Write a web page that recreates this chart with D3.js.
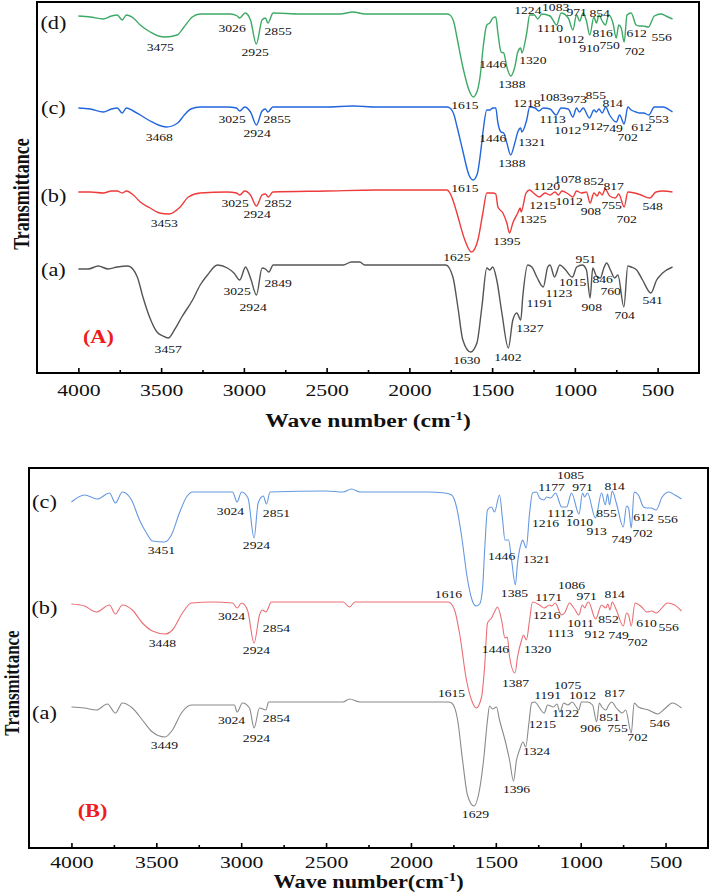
<!DOCTYPE html>
<html>
<head>
<meta charset="utf-8">
<script src="https://cdn.jsdelivr.net/npm/d3@7"></script>
<style>
  body { margin: 0; background: #fff; }
  svg { display: block; }
  text { font-family: "Liberation Serif", "Times New Roman", serif; fill: #111; }
</style>
</head>
<body>
<script>
var width = 710,
    height = 896;
var SX = 1.24; // the source figure is stretched sideways, so is the text

var majorTicks = [4000, 3500, 3000, 2500, 2000, 1500, 1000, 500];
var minorTicks = [3750, 3250, 2750, 2250, 1750, 1250, 750];

// spectra: [wave number, transmittance (a.u., stacked)]
var specA_d = [[4000,357],[3928,356],[3849,354],[3800,357],[3765,358],[3735,353],[3710,358],[3668,355],[3626,348],[3566,341],[3517,337],[3475,336],[3403,338],[3366,345],[3312,356],[3264,359],[3083,359],[3040,357],[3026,355],[2992,360],[2960,353],[2925,329],[2890,353],[2870,355],[2855,350],[2823,360],[2660,359],[2419,359],[2340,361],[2268,359],[1773,359],[1755,358],[1730,350],[1713,336],[1677,306],[1640,283],[1615,276],[1590,282],[1570,300],[1556,323],[1532,348],[1514,350],[1496,355],[1478,356],[1465,340],[1446,321],[1430,320],[1411,306],[1388,297],[1363,306],[1345,321],[1327,325],[1320,320],[1291,340],[1273,358],[1245,358],[1224,354],[1200,359],[1150,357],[1110,348],[1083,360],[1040,355],[1012,343],[990,358],[971,352],[950,360],[930,352],[910,338],[885,356],[870,350],[854,358],[835,352],[816,348],[795,358],[770,350],[750,335],[735,348],[720,345],[702,331],[685,358],[660,360],[630,348],[612,347],[590,347],[556,346],[520,357],[480,359],[450,357],[410,354]];
var specA_c = [[4000,265],[3928,264],[3849,261],[3800,264],[3765,265],[3735,260],[3710,265],[3668,262],[3626,258],[3566,252],[3517,248],[3468,246],[3400,250],[3360,258],[3320,264],[3264,266],[3100,266],[3045,265],[3025,262],[2995,266],[2960,261],[2924,248],[2890,262],[2870,264],[2855,261],[2825,266],[2500,266],[2340,267],[2200,266],[1773,266],[1755,265],[1730,258],[1713,247],[1677,222],[1640,198],[1615,193],[1590,199],[1570,220],[1556,240],[1532,263],[1514,263],[1496,265],[1478,265],[1465,250],[1446,241],[1430,240],[1411,230],[1388,218],[1363,230],[1345,241],[1327,245],[1321,241],[1291,253],[1273,266],[1240,265],[1218,262],[1190,265],[1150,264],[1113,258],[1083,265],[1040,264],[1012,256],[990,265],[973,261],[950,265],[912,255],[885,263],[870,261],[855,264],[835,260],[814,266],[790,258],[749,251],[730,258],[702,249],[680,266],[660,263],[630,261],[612,260],[585,260],[553,258],[520,266],[470,266],[410,261]];
var specA_b = [[4000,181],[3928,181],[3849,180],[3800,182],[3765,182],[3735,180],[3710,182],[3668,178],[3626,171],[3566,165],[3510,160],[3453,159],[3385,166],[3335,176],[3264,180],[3100,181],[3045,180],[3025,178],[2995,182],[2960,178],[2924,167],[2890,178],[2870,179],[2852,176],[2825,181],[2500,182],[2200,183],[1773,183],[1755,180],[1735,172],[1713,160],[1665,133],[1625,121],[1586,133],[1556,160],[1532,180],[1514,180],[1496,180],[1478,179],[1465,166],[1435,160],[1411,150],[1395,140],[1375,150],[1345,160],[1330,165],[1325,161],[1295,180],[1273,183],[1250,180],[1215,176],[1180,180],[1150,178],[1120,181],[1100,178],[1078,182],[1040,179],[1012,176],[990,182],[960,180],[930,181],[908,170],[885,180],[865,177],[852,181],[835,178],[817,184],[790,177],[755,175],[735,179],[702,166],[680,181],[640,180],[600,178],[548,175],[510,181],[470,182],[410,181]];
var specA_a = [[4000,104],[3940,104],[3880,107],[3820,104],[3765,106],[3700,107],[3644,96],[3610,76],[3570,56],[3525,41],[3490,37],[3457,35],[3420,43],[3375,56],[3310,73],[3264,88],[3220,98],[3160,108],[3100,105],[3060,100],[3025,93],[2990,106],[2960,95],[2924,78],[2890,105],[2870,104],[2849,101],[2823,108],[2400,108],[2350,111],[2300,111],[2270,108],[1780,108],[1737,96],[1707,66],[1677,33],[1630,21],[1592,30],[1562,66],[1532,105],[1514,103],[1496,106],[1472,93],[1441,60],[1402,25],[1375,53],[1351,60],[1327,53],[1315,76],[1285,108],[1260,106],[1230,96],[1191,86],[1164,106],[1150,108],[1123,96],[1091,108],[1061,104],[1015,96],[989,106],[955,108],[930,103],[908,75],[892,105],[870,97],[846,95],[825,105],[808,110],[785,103],[760,95],[740,98],[704,66],[680,107],[660,106],[627,103],[591,93],[541,80],[506,93],[470,100],[410,106]];

var specB_c = [[4000,346],[3923,353],[3847,349],[3776,355],[3741,345],[3700,356],[3646,348],[3599,328],[3558,315],[3523,307],[3451,306],[3411,313],[3364,335],[3322,351],[3287,356],[3051,356],[3024,346],[2998,356],[2960,350],[2924,310],[2900,345],[2870,352],[2851,344],[2830,356],[2500,357],[2400,356],[2350,359],[2300,356],[1900,356],[1800,355],[1760,353],[1730,340],[1700,310],[1670,272],[1640,248],[1616,242],[1595,244],[1578,260],[1565,300],[1549,338],[1525,341],[1508,336],[1478,353],[1460,328],[1446,308],[1425,308],[1407,288],[1385,263],[1372,285],[1348,306],[1342,308],[1321,300],[1301,335],[1284,355],[1260,356],[1242,350],[1216,348],[1201,351],[1177,350],[1148,355],[1112,341],[1083,341],[1054,355],[1010,334],[989,355],[977,351],[960,355],[913,330],[877,355],[855,343],[842,354],[830,343],[814,357],[790,345],[749,321],[730,342],[718,340],[702,320],[685,356],[660,353],[630,341],[612,340],[585,340],[556,338],[520,351],[480,356],[445,353],[406,349]];
var specB_b = [[4000,244],[3923,242],[3853,236],[3776,243],[3741,234],[3700,243],[3641,238],[3582,225],[3523,217],[3448,214],[3405,218],[3346,235],[3293,245],[3169,246],[3051,245],[3024,240],[2998,245],[2963,238],[2924,205],[2892,233],[2875,238],[2854,236],[2822,246],[2400,246],[2362,241],[2330,246],[1780,246],[1743,238],[1714,215],[1673,168],[1643,148],[1615,140],[1584,151],[1566,181],[1549,225],[1525,230],[1508,236],[1490,241],[1466,228],[1446,210],[1432,211],[1419,191],[1387,175],[1372,191],[1348,208],[1337,213],[1320,208],[1301,228],[1284,246],[1242,243],[1216,240],[1183,243],[1171,242],[1150,245],[1113,233],[1095,235],[1066,245],[1040,240],[1011,233],[990,243],[975,240],[965,244],[954,246],[912,229],[877,243],[852,240],[840,244],[828,238],[814,246],[790,238],[749,222],[730,235],[718,233],[702,222],[680,245],[641,241],[610,236],[580,237],[556,235],[488,245],[447,243],[406,237]];
var specB_a = [[4000,141],[3923,140],[3853,138],[3788,144],[3741,135],[3700,145],[3641,140],[3582,128],[3523,116],[3449,111],[3405,118],[3352,135],[3293,143],[3040,143],[3024,136],[2992,145],[2951,140],[2924,120],[2892,140],[2854,138],[2839,146],[2400,146],[2362,149],[2300,146],[1780,146],[1760,145],[1725,128],[1696,88],[1667,53],[1629,42],[1602,53],[1572,88],[1549,128],[1537,142],[1519,139],[1496,141],[1478,128],[1446,108],[1419,88],[1396,67],[1378,88],[1360,98],[1340,106],[1324,101],[1305,125],[1289,145],[1272,146],[1215,135],[1195,143],[1160,141],[1140,144],[1122,136],[1100,145],[1075,143],[1050,146],[1030,142],[1012,138],[995,146],[960,146],[930,143],[906,126],[890,145],[875,141],[851,138],[835,143],[817,146],[790,140],[755,135],[735,138],[702,115],[685,145],[660,141],[600,138],[546,134],[500,140],[460,145],[406,140]];

// peak annotations: [text, wave number, transmittance]
var peaksA_d = [["3475",3505,326],["3026",3071,345],["2925",2932,321],["2855",2793,342],["1615",1665,268],["1446",1496,309],["1388",1381,289],["1320",1254,313],["1224",1284,363],["1083",1116,366],["971",989,361],["854",850,360],["1110",1150,345],["1012",1025,334],["816",832,340],["910",912,325],["750",790,328],["702",639,322],["612",627,340],["556",476,336]];
var peaksA_c = [["3468",3511,236],["3025",3071,254],["2924",2920,240],["2855",2799,254],["1615",1665,185],["1446",1496,235],["1388",1381,210],["1321",1260,231],["1218",1290,270],["1083",1134,276],["973",989,274],["855",874,278],["814",772,270],["1113",1134,254],["1012",1043,243],["912",892,247],["749",772,245],["702",681,236],["612",597,246],["553",494,254]];
var peaksA_b = [["3453",3481,150],["3025",3053,170],["2924",2920,159],["2852",2793,170],["1625",1713,116],["1395",1411,132],["1325",1254,154],["1120",1170,187],["1078",1043,194],["852",886,192],["817",766,187],["1215",1194,168],["1012",1035,172],["908",903,162],["755",778,168],["702",687,154],["548",530,167]];
var peaksA_a = [["3457",3457,24],["3025",3041,82],["2924",2944,66],["2849",2793,90],["1630",1653,13],["1402",1405,16],["1327",1272,45],["1191",1212,70],["1123",1097,80],["1015",1013,91],["951",934,114],["908",898,66],["846",832,94],["760",784,82],["704",699,58],["541",530,73]];

var peaksB_c = [["3451",3470,298],["3024",3063,337],["2924",2910,303],["2851",2792,335],["1616",1779,254],["1446",1466,292],["1385",1390,255],["1321",1260,289],["1085",1060,373],["1177",1172,361],["971",989,361],["814",800,362],["1216",1207,325],["1112",1119,335],["1010",1007,326],["855",848,335],["913",906,317],["749",759,309],["702",635,315],["612",630,331],["556",488,329]];
var peaksB_b = [["3448",3464,205],["3024",3057,232],["2924",2910,198],["2854",2792,220],["1615",1761,155],["1446",1502,199],["1387",1384,165],["1320",1254,199],["1086",1054,263],["1171",1189,251],["971",965,252],["814",800,254],["1216",1201,233],["1011",1001,225],["852",836,229],["610",612,225],["556",482,221],["1113",1119,215],["912",918,214],["749",777,213],["702",665,206]];
var peaksB_a = [["3449",3452,103],["3024",3057,128],["2924",2910,110],["2854",2792,130],["1629",1620,34],["1396",1378,59],["1324",1260,97],["1215",1225,124],["1191",1195,153],["1075",1077,163],["1012",989,153],["817",800,155],["1122",1089,135],["851",830,131],["906",942,120],["755",783,120],["702",665,111],["546",535,125]];

// curve names and where they sit: [text, wave number, transmittance]
var namesA = [["(a)",4151,103],["(b)",4151,177],["(c)",4151,265],["(d)",4151,350]];
var namesB = [["(a)",4159,135],["(b)",4159,240],["(c)",4159,346]];
var panelTagA = ["(A)", 3879, 36];
var panelTagB = ["(B)", 3876, 37];

var svg = d3.select("body").append("svg")
    .attr("width", width)
    .attr("height", height);

function stext(g, x, y, txt, size) {
  return g.append("text")
      .attr("transform", "translate(" + x + "," + y + ") scale(" + SX + ",1)")
      .attr("text-anchor", "middle")
      .attr("dominant-baseline", "central")
      .style("font-size", size + "px")
      .text(txt);
}

function drawPanel(p) {
  var x = d3.scaleLinear().domain([4250, 250]).range([p.left, p.right]);
  var y = d3.scaleLinear().domain([0, p.bottom - p.top]).range([p.bottom, p.top]);
  var g = svg.append("g");

  var line = d3.line()
      .x(function(d) { return x(d[0]); })
      .y(function(d) { return y(d[1]); })
      .curve(d3.curveMonotoneX);

  p.series.forEach(function(s) {
    g.append("path")
        .datum(s.data)
        .attr("d", line)
        .attr("fill", "none")
        .attr("stroke", s.color)
        .attr("stroke-width", p.lw)
        .attr("stroke-linejoin", "round");
    s.peaks.forEach(function(pk) {
      stext(g, x(pk[1]), y(pk[2]), pk[0], 11);
    });
  });

  p.names.forEach(function(n) {
    stext(g, x(n[1]), y(n[2]), n[0], 18);
  });
  stext(g, x(p.tag[1]), y(p.tag[2]), p.tag[0], 18)
      .style("font-weight", "bold")
      .style("fill", "#ee1c1c");

  // axes: ticks point into the plot
  var ax = g.append("g")
      .attr("transform", "translate(0," + p.bottom + ")")
      .call(d3.axisBottom(x).tickValues(majorTicks).tickSize(-5).tickFormat(d3.format("d")));
  ax.select(".domain").remove();
  ax.selectAll(".tick line").attr("stroke", "#000").attr("stroke-width", 1.6);
  ax.selectAll(".tick text")
      .attr("y", p.tickY)
      .attr("dy", null)
      .attr("transform", "scale(" + SX + ",1)")
      .style("font-size", "17.5px")
      .style("font-family", "'Liberation Serif', serif")
      .style("fill", "#111");

  var axm = g.append("g")
      .attr("transform", "translate(0," + p.bottom + ")")
      .call(d3.axisBottom(x).tickValues(minorTicks).tickSize(-3).tickFormat(""));
  axm.select(".domain").remove();
  axm.selectAll(".tick line").attr("stroke", "#000").attr("stroke-width", 1.6);

  g.append("rect")
      .attr("x", p.left)
      .attr("y", p.top)
      .attr("width", p.right - p.left)
      .attr("height", p.bottom - p.top)
      .attr("fill", "none")
      .attr("stroke", "#000")
      .attr("stroke-width", 2);

  // x title
  var t = g.append("text")
      .attr("transform", "translate(" + ((p.left + p.right) / 2) + "," + (p.bottom + p.titleOffset) + ") scale(" + SX + ",1)")
      .attr("text-anchor", "middle")
      .style("font-size", p.titleSize + "px")
      .style("font-weight", "bold");
  t.append("tspan").text(p.title);
  t.append("tspan").attr("dy", -7).style("font-size", "12px").text("-1");
  t.append("tspan").attr("dy", 7).text(")");

  // y title
  g.append("text")
      .attr("transform", "translate(" + p.ylabX + "," + p.ylabY + ") scale(" + SX + ",1) rotate(-90)")
      .attr("text-anchor", "middle")
      .style("font-size", p.ylabSize + "px")
      .style("font-weight", "bold")
      .text("Transmittance");
}

drawPanel({
  left: 37, right: 699, top: 2, bottom: 373, lw: 1.4,
  series: [
    {data: specA_a, color: "#555555", peaks: peaksA_a},
    {data: specA_b, color: "#ee3b3b", peaks: peaksA_b},
    {data: specA_c, color: "#2266dd", peaks: peaksA_c},
    {data: specA_d, color: "#3daa66", peaks: peaksA_d}
  ],
  names: namesA, tag: panelTagA,
  tickY: 23,
  title: "Wave number (cm", titleOffset: 54, titleSize: 19,
  ylabX: 29, ylabY: 194, ylabSize: 18
});

drawPanel({
  left: 29, right: 708, top: 468, bottom: 848, lw: 1.1,
  series: [
    {data: specB_a, color: "#8a8a8a", peaks: peaksB_a},
    {data: specB_b, color: "#ea6f75", peaks: peaksB_b},
    {data: specB_c, color: "#6699e0", peaks: peaksB_c}
  ],
  names: namesB, tag: panelTagB,
  tickY: 20,
  title: "Wave number(cm", titleOffset: 40, titleSize: 18,
  ylabX: 19, ylabY: 683, ylabSize: 17
});
</script>
</body>
</html>
